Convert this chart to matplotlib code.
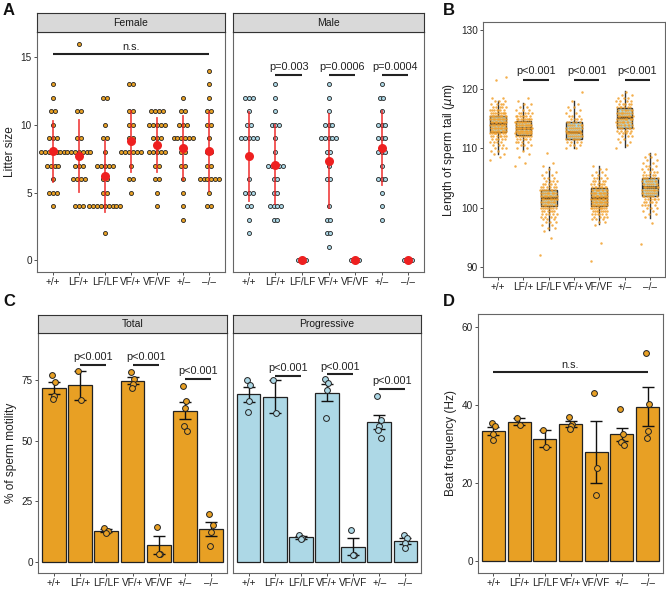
import matplotlib
matplotlib.use("Agg")
import matplotlib.pyplot as plt
import numpy as np
from collections import Counter

plt.rcParams['font.family'] = ['Liberation Sans', 'DejaVu Sans']

genotypes = ["+/+", "LF/+", "LF/LF", "VF/+", "VF/VF", "+/\u2013", "\u2013/\u2013"]

# ---------------- Panel A: litter sizes ----------------
female_litters = [
    [13, 12, 11, 11, 10, 9, 9, 9, 8, 8, 8, 8, 8, 8, 8, 7, 7, 7, 7, 6, 5, 5, 5, 4],
    [16, 11, 11, 9, 9, 8, 8, 8, 8, 8, 8, 8, 7, 7, 7, 6, 6, 6, 6, 4, 4, 4],
    [12, 12, 10, 9, 9, 8, 7, 7, 7, 7, 7, 6, 6, 5, 5, 4, 4, 4, 4, 4, 4, 4, 4, 4, 2],
    [13, 13, 11, 11, 10, 10, 9, 9, 8, 8, 8, 8, 8, 8, 7, 6, 6, 5],
    [11, 11, 11, 11, 10, 10, 10, 10, 10, 9, 9, 9, 8, 8, 8, 8, 8, 7, 7, 6, 6, 5, 4],
    [12, 11, 11, 10, 10, 10, 9, 9, 9, 9, 9, 9, 8, 8, 7, 7, 6, 5, 4, 3],
    [14, 13, 12, 11, 11, 10, 10, 9, 8, 8, 7, 7, 6, 6, 6, 6, 6, 6, 5, 4, 4],
]
male_litters = [
    [12, 12, 12, 11, 10, 10, 9, 9, 9, 9, 9, 6, 5, 5, 5, 4, 4, 3, 2],
    [13, 12, 11, 10, 10, 10, 9, 8, 7, 7, 7, 7, 7, 6, 6, 5, 5, 4, 4, 4, 4, 3, 3],
    [0, 0, 0],
    [13, 12, 11, 10, 10, 10, 9, 9, 9, 9, 9, 8, 8, 7, 6, 6, 4, 3, 3, 2, 2, 1],
    [0, 0, 0],
    [13, 12, 12, 11, 10, 10, 10, 9, 9, 9, 8, 8, 8, 7, 6, 6, 6, 5, 4, 3],
    [0, 0, 0],
]
male_pvals = [(2, 3, "p=0.003"), (4, 5, "p=0.0006"), (6, 7, "p=0.0004")]

# ---------------- Panel B: sperm tail length (value, count) ----------------
tail_wt = [(108.0, 1), (108.5, 1), (109.0, 2), (109.5, 2), (110.0, 3), (110.5, 3), (111.0, 4), (111.5, 5),
           (112.0, 7), (112.5, 9), (113.0, 11), (113.5, 13), (114.0, 14), (114.5, 14), (115.0, 13),
           (115.5, 11), (116.0, 9), (116.5, 7), (117.0, 5), (117.5, 4), (118.0, 3), (118.5, 2),
           (121.5, 1), (122.0, 1)]
tail_lf_het = [(107.0, 1), (107.5, 1), (108.5, 1), (109.0, 1), (109.5, 1), (110.0, 2), (110.5, 3), (111.0, 4),
               (111.5, 5), (112.0, 8), (112.5, 11), (113.0, 13), (113.5, 15), (114.0, 14), (114.5, 12),
               (115.0, 9), (115.5, 7), (116.0, 5), (116.5, 3), (117.0, 2), (117.5, 2), (118.0, 1), (118.5, 1)]
tail_lf_hom = [(92.0, 1), (94.8, 1), (96.0, 1), (96.5, 2), (97.0, 2), (97.5, 3), (98.0, 3), (98.5, 4), (99.0, 5),
               (99.5, 6), (100.0, 8), (100.5, 9), (101.0, 10), (101.5, 12), (102.0, 12), (102.5, 10),
               (103.0, 8), (103.5, 6), (104.0, 5), (104.5, 4), (105.0, 3), (105.5, 2), (106.0, 2),
               (106.5, 1), (107.0, 1), (107.5, 1), (109.2, 1)]
tail_vf_het = [(110.0, 2), (110.5, 3), (111.0, 4), (111.5, 6), (112.0, 8), (112.5, 9), (113.0, 9), (113.5, 8),
               (114.0, 7), (114.5, 5), (115.0, 4), (115.5, 3), (116.0, 2), (116.5, 2), (117.0, 2),
               (117.5, 1), (118.0, 1), (119.5, 1)]
tail_vf_hom = [(91.0, 1), (94.0, 1), (97.0, 1), (97.5, 2), (98.0, 3), (98.5, 4), (99.0, 6), (99.5, 8), (100.0, 10),
               (100.5, 12), (101.0, 13), (101.5, 14), (102.0, 14), (102.5, 12), (103.0, 10), (103.5, 8),
               (104.0, 6), (104.5, 5), (105.0, 4), (105.5, 3), (106.0, 2), (106.5, 2), (107.0, 1)]
tail_ko_het = [(110.0, 1), (110.5, 1), (111.0, 2), (111.5, 2), (112.0, 3), (112.5, 4), (113.0, 5), (113.5, 7),
               (114.0, 8), (114.5, 9), (115.0, 10), (115.5, 10), (116.0, 9), (116.5, 7), (117.0, 6),
               (117.5, 5), (118.0, 4), (118.5, 3), (119.0, 2), (119.5, 1)]
tail_ko_hom = [(93.8, 1), (97.4, 1), (98.5, 1), (99.0, 2), (99.5, 2), (100.0, 3), (100.5, 4), (101.0, 5),
               (101.5, 6), (102.0, 7), (102.5, 8), (103.0, 9), (103.5, 9), (104.0, 8), (104.5, 7), (105.0, 6),
               (105.5, 5), (106.0, 4), (106.5, 3), (107.0, 3), (107.5, 2), (108.0, 2), (108.5, 2), (109.0, 2)]
tail_groups = [tail_wt, tail_lf_het, tail_lf_hom, tail_vf_het, tail_vf_hom, tail_ko_het, tail_ko_hom]
# box statistics: (whisker low, Q1, median, Q3, whisker high)
tail_box = [(109.0, 112.8, 114.2, 115.5, 118.0),
            (109.7, 112.3, 113.5, 114.6, 117.7),
            (96.2, 100.2, 101.7, 103.0, 106.8),
            (110.0, 111.6, 112.8, 114.4, 118.0),
            (97.3, 100.2, 101.6, 103.3, 107.0),
            (110.3, 113.4, 115.3, 116.8, 119.7),
            (98.3, 101.9, 103.5, 105.0, 109.2)]
tail_pvals = [(2, 3, "p<0.001"), (4, 5, "p<0.001"), (6, 7, "p<0.001")]

# ---------------- Panel C: motility (individual animals) ----------------
motility_total = [[77.0, 74.3, 68.5, 67.2], [78.8, 67.0], [14.2, 12.8, 11.8], [78.3, 75.5, 73.5, 72.0],
                  [14.3, 3.5, 3.5], [72.5, 66.4, 63.4, 56.2, 54.1], [20.0, 15.1, 12.5, 6.7]]
motility_prog = [[75.0, 73.2, 66.6, 62.1], [75.0, 61.5], [11.0, 10.0, 9.5], [75.5, 74.0, 71.0, 59.3],
                 [13.2, 3.0, 3.0], [68.5, 58.5, 56.0, 54.5, 51.0], [11.2, 9.8, 7.8, 5.7]]
total_pvals = [(2, 3, 81.4, "p<0.001"), (4, 5, 81.4, "p<0.001"), (6, 7, 75.7, "p<0.001")]
prog_pvals = [(2, 3, 76.8, "p<0.001"), (4, 5, 77.5, "p<0.001"), (6, 7, 71.6, "p<0.001")]

# ---------------- Panel D: beat frequency ----------------
beat_freq = [[35.3, 34.7, 32.6, 30.9], [36.5, 34.8], [33.6, 29.1], [36.9, 35.1, 34.6, 33.8],
             [43.1, 23.8, 16.9], [38.8, 32.6, 30.5, 30.4, 29.8], [53.3, 40.2, 33.2, 31.5]]

# ---------------- styling ----------------
ORANGE = "#E8A024"
LBLUE = "#ADD8E6"
PT_ORANGE = "#F2A12E"
RED = "#EE2020"
BORDER = "#666666"
TXT = "#222222"
TICK_FS = 7.2
LAB_FS = 8.6
P_FS = 7.8

W, H = 666, 590
fig = plt.figure(figsize=(W / 100, H / 100), dpi=100)


def ax_px(l, t, r, b):
    return fig.add_axes([l / W, 1 - b / H, (r - l) / W, (b - t) / H])


def style_axes(ax, show_y=True):
    for s in ax.spines.values():
        s.set_color(BORDER)
        s.set_linewidth(0.8)
    ax.tick_params(axis='both', length=2.2, width=0.6, color="#333333", labelsize=TICK_FS,
                   labelcolor=TXT, pad=1.5)
    ax.set_xticks(range(1, 8))
    ax.set_xticklabels(genotypes)
    ax.set_xlim(0.4, 7.6)
    if not show_y:
        ax.tick_params(axis='y', left=False, labelleft=False)


def strip(l, t, r, b, label):
    s = ax_px(l, t, r, b)
    s.set_facecolor("#D9D9D9")
    s.set_xticks([])
    s.set_yticks([])
    for sp in s.spines.values():
        sp.set_color("#333333")
        sp.set_linewidth(0.8)
    s.text(0.5, 0.48, label, ha='center', va='center', fontsize=7.5, color="#1a1a1a", transform=s.transAxes)


def sig(ax, x1, x2, y, label, dy):
    ax.plot([x1, x2], [y, y], color="#222222", lw=1.5, solid_capstyle='butt')
    ax.text((x1 + x2) / 2, y + dy, label, ha='center', va='bottom', fontsize=P_FS, color=TXT)


# ---------- Panel A ----------
def dot_panel(ax, groups, fill, spacing):
    for i, vals in enumerate(groups):
        x0 = i + 1
        cnt = Counter(vals)
        for v, n in cnt.items():
            offs = (np.arange(n) - (n - 1) / 2) * spacing
            ax.plot(x0 + offs, [v] * n, 'o', ms=2.9, mfc=fill, mec="#222222", mew=0.6, zorder=3)
        arr = np.array(vals, dtype=float)
        m = arr.mean()
        sd = arr.std(ddof=1)
        if sd > 0:
            ax.plot([x0, x0], [m - sd, m + sd], color=RED, lw=1.3, alpha=0.8, zorder=4)
        ax.plot(x0, m, 'o', ms=6.5, color=RED, mec='none', zorder=5)
    ax.set_ylim(-0.85, 16.85)


axF = ax_px(37, 32, 225, 272)
style_axes(axF)
dot_panel(axF, female_litters, ORANGE, 0.148)
axF.set_yticks([0, 5, 10, 15])
axF.set_ylabel("Litter size", fontsize=LAB_FS, color=TXT, labelpad=3)
sig(axF, 1, 7, 15.25, "n.s.", 0.15)
strip(37, 13, 225, 32, "Female")

axM = ax_px(233, 32, 424, 272)
style_axes(axM, show_y=False)
dot_panel(axM, male_litters, LBLUE, 0.146)
for x1, x2, lab in male_pvals:
    sig(axM, x1, x2, 13.7, lab, 0.2)
strip(233, 13, 424, 32, "Male")

# ---------- Panel B ----------
axB = ax_px(483, 22, 665, 277)
style_axes(axB)
stats = []
for (wl, q1, med, q3, wh) in tail_box:
    stats.append(dict(whislo=wl, q1=q1, med=med, q3=q3, whishi=wh, fliers=[]))
axB.bxp(stats, positions=range(1, 8), widths=0.62, patch_artist=True, showfliers=False,
        boxprops=dict(facecolor=LBLUE, edgecolor="#333333", linewidth=1.0),
        medianprops=dict(color="#222222", linewidth=1.8),
        whiskerprops=dict(color="#333333", linewidth=1.0),
        capprops=dict(linewidth=0), manage_ticks=False)
golden = 0.6180339887
for i, grp in enumerate(tail_groups):
    xs, ys = [], []
    k = 0
    for v, n in grp:
        for _ in range(n):
            frac = (k * golden) % 1.0
            xs.append(i + 1 + (frac - 0.5) * 0.66)
            ys.append(v)
            k += 1
    axB.scatter(xs, ys, s=3.2, color=PT_ORANGE, alpha=0.85, linewidths=0, zorder=4)
axB.set_ylim(88.3, 131.3)
axB.set_yticks([90, 100, 110, 120, 130])
axB.set_ylabel("Length of sperm tail ($\\mu$m)", fontsize=LAB_FS, color=TXT, labelpad=3)
for x1, x2, lab in tail_pvals:
    sig(axB, x1, x2, 121.6, lab, 0.6)

# ---------- bar panels ----------
jit = [-0.07, 0.05, 0.0, -0.03, 0.08]


def bar_panel(ax, groups, fill):
    means = [np.mean(g) for g in groups]
    ses = [np.std(g, ddof=1) / np.sqrt(len(g)) for g in groups]
    x = np.arange(1, 8)
    ax.bar(x, means, width=0.9, color=fill, edgecolor="#222222", linewidth=0.9, zorder=2)
    ax.errorbar(x, means, yerr=ses, fmt='none', ecolor="#111111", elinewidth=1.0, capsize=4.5,
                capthick=1.0, zorder=3)
    for i, g in enumerate(groups):
        for j, v in enumerate(g):
            ax.plot(i + 1 + jit[j % len(jit)], v, 'o', ms=4.2, mfc=fill, mec="#222222", mew=0.7, zorder=4)


BOT = 573
axCT = ax_px(38, 333, 227, BOT)
style_axes(axCT)
bar_panel(axCT, motility_total, ORANGE)
axCT.set_ylim(-4.5, 94.5)
axCT.set_yticks([0, 25, 50, 75])
axCT.set_ylabel("% of sperm motility", fontsize=LAB_FS, color=TXT, labelpad=3)
for x1, x2, y, lab in total_pvals:
    sig(axCT, x1, x2, y, lab, 1.0)
strip(38, 315, 227, 333, "Total")

axCP = ax_px(233, 333, 421, BOT)
style_axes(axCP, show_y=False)
bar_panel(axCP, motility_prog, LBLUE)
axCP.set_ylim(-4.5, 94.5)
for x1, x2, y, lab in prog_pvals:
    sig(axCP, x1, x2, y, lab, 1.0)
strip(233, 315, 421, 333, "Progressive")

axD = ax_px(478, 314, 663, BOT)
style_axes(axD)
bar_panel(axD, beat_freq, ORANGE)
axD.set_ylim(-3.0, 63.2)
axD.set_yticks([0, 20, 40, 60])
axD.set_ylabel("Beat frequency (Hz)", fontsize=LAB_FS, color=TXT, labelpad=3)
sig(axD, 1, 7, 48.4, "n.s.", 0.6)

# panel letters
for lab, (px, py) in {"A": (3, 3), "B": (443, 3), "C": (3, 294), "D": (443, 294)}.items():
    fig.text(px / W, 1 - py / H, lab, fontsize=12, fontweight='bold', ha='left', va='top', color="#111111")

fig.savefig("out.png", dpi=100)
